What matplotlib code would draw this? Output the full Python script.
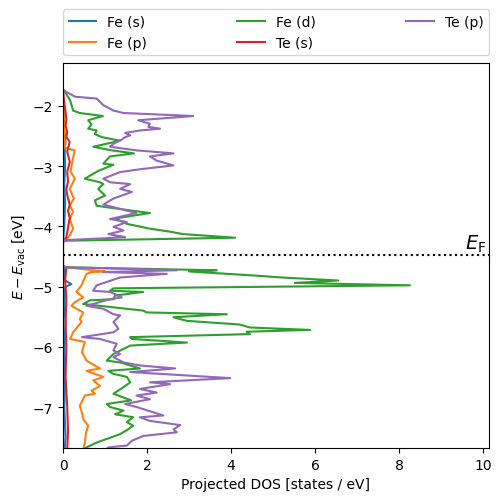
import matplotlib
matplotlib.use("agg")

import matplotlib.pyplot as plt
import numpy as np


LABELS = ["Fe (s)", "Fe (p)", "Fe (d)", "Te (s)", "Te (p)"]
E_FERMI = -4.48

fe_s_e = [-1.75, -2.40, -2.60, -2.75, -3.00, -3.30, -3.60, -4.00, -4.26,
          -4.66, -4.68, -4.90, -4.96, -5.01, -5.30, -5.60, -6.00, -6.50, -7.00, -7.50, -7.72]
fe_s_d = [0.0, 0.03, 0.06, 0.04, 0.05, 0.03, 0.05, 0.03, 0.0,
          0.0, 0.02, 0.05, 0.20, 0.05, 0.03, 0.06, 0.03, 0.05, 0.03, 0.06, 0.04]

fe_p_e = [-1.75, -2.50, -2.70, -2.74, -2.86, -3.09, -3.21, -3.38, -3.54, -3.65, -3.76, -3.88,
          -4.04, -4.15, -4.22, -4.26,
          -4.66, -4.68, -4.75, -4.76, -4.79, -4.85, -4.98, -5.09, -5.18, -5.26, -5.32, -5.43,
          -5.54, -5.59, -5.76, -5.87, -5.92, -6.09, -6.23, -6.36, -6.40, -6.50, -6.56, -6.65,
          -6.73, -6.78, -6.81, -6.98, -7.09, -7.20, -7.31, -7.42, -7.59, -7.72]
fe_p_d = [0.0, 0.03, 0.05, 0.28, 0.24, 0.18, 0.28, 0.16, 0.26, 0.16, 0.24, 0.16,
          0.24, 0.16, 0.08, 0.0,
          0.0, 0.05, 1.00, 0.67, 0.56, 0.52, 0.44, 0.32, 0.48, 0.28, 0.20, 0.48,
          0.40, 0.44, 0.24, 0.17, 0.52, 0.45, 0.56, 0.88, 0.56, 0.96, 0.72, 0.88,
          0.68, 0.76, 0.52, 0.40, 0.45, 0.48, 0.60, 0.55, 0.52, 0.48]

fe_d_e = [-1.75, -1.91, -2.08, -2.12, -2.17, -2.24, -2.31, -2.38, -2.41, -2.47, -2.52, -2.58,
          -2.68, -2.74, -2.79, -2.84, -2.96, -2.98, -3.08, -3.21, -3.27, -3.30, -3.38, -3.49,
          -3.57, -3.66, -3.74, -3.78, -3.87, -3.96, -4.04, -4.09, -4.13, -4.19, -4.24, -4.26,
          -4.66, -4.68, -4.73, -4.75, -4.82, -4.85, -4.90, -4.94, -4.98, -5.03, -5.07, -5.09,
          -5.15, -5.21, -5.23, -5.29, -5.40, -5.43, -5.46, -5.51, -5.57, -5.63, -5.68, -5.72,
          -5.75, -5.79, -5.84, -5.87, -5.93, -5.98, -6.12, -6.23, -6.26, -6.36, -6.40, -6.45,
          -6.50, -6.59, -6.67, -6.78, -6.89, -6.95, -7.00, -7.06, -7.12, -7.17, -7.25, -7.31,
          -7.37, -7.45, -7.59, -7.67, -7.72]
fe_d_d = [0.03, 0.17, 0.24, 0.40, 0.95, 0.60, 0.68, 0.60, 0.80, 0.76, 0.92, 1.36,
          0.72, 1.16, 1.69, 1.12, 0.96, 1.20, 0.84, 0.52, 0.88, 0.96, 0.84, 1.00,
          0.76, 0.80, 1.64, 2.07, 1.24, 1.52, 2.07, 2.55, 2.86, 4.10, 0.05, 0.0,
          0.0, 0.03, 3.66, 3.00, 4.61, 5.21, 6.55, 5.52, 8.26, 1.20, 1.12, 1.91,
          1.24, 1.20, 0.64, 0.48, 1.91, 1.99, 3.90, 2.63, 2.95, 4.20, 4.45, 5.88,
          4.37, 4.45, 1.60, 1.64, 2.95, 1.60, 1.20, 1.04, 1.36, 1.83, 1.08, 1.20,
          1.52, 1.60, 1.44, 1.20, 1.62, 1.04, 1.12, 1.44, 1.24, 1.67, 1.52, 1.67,
          1.55, 1.36, 0.80, 0.56, 0.45]

te_s_e = [-1.75, -1.95, -2.10, -2.22, -2.33, -2.43, -2.52, -2.60, -2.76, -2.93, -3.10, -3.26,
          -3.38, -3.48, -3.64, -3.75, -3.86, -4.02, -4.18, -4.26,
          -4.66, -4.68, -4.90, -5.20, -5.60, -6.00, -6.50, -7.00, -7.40, -7.72]
te_s_d = [0.0, 0.03, 0.06, 0.08, 0.06, 0.10, 0.08, 0.16, 0.10, 0.16, 0.10, 0.12,
          0.08, 0.10, 0.16, 0.12, 0.16, 0.12, 0.08, 0.0,
          0.0, 0.08, 0.05, 0.08, 0.06, 0.08, 0.06, 0.10, 0.12, 0.10]

te_p_e = [-1.75, -1.85, -1.88, -1.99, -2.08, -2.12, -2.17, -2.24, -2.30, -2.35, -2.38, -2.41,
          -2.45, -2.49, -2.52, -2.56, -2.63, -2.68, -2.74, -2.79, -2.84, -2.91, -2.99, -3.05,
          -3.10, -3.21, -3.27, -3.30, -3.38, -3.43, -3.54, -3.64, -3.74, -3.78, -3.88, -3.93,
          -4.01, -4.07, -4.13, -4.18, -4.20, -4.23, -4.26,
          -4.66, -4.68, -4.73, -4.76, -4.79, -4.85, -4.98, -5.07, -5.09, -5.18, -5.21, -5.32,
          -5.37, -5.46, -5.48, -5.59, -5.70, -5.76, -5.84, -5.87, -5.95, -6.06, -6.12, -6.17,
          -6.26, -6.31, -6.36, -6.42, -6.52, -6.59, -6.62, -6.70, -6.76, -6.81, -6.87, -6.95,
          -7.00, -7.14, -7.17, -7.23, -7.30, -7.37, -7.42, -7.48, -7.56, -7.64, -7.67, -7.72]
te_p_d = [0.03, 0.29, 0.80, 0.96, 1.20, 1.44, 3.10, 1.79, 2.07, 2.03, 2.31, 1.83,
          1.48, 1.60, 1.48, 1.40, 1.20, 1.12, 1.75, 2.63, 2.07, 2.23, 2.63, 1.87,
          1.36, 0.96, 1.12, 1.60, 1.36, 1.64, 1.20, 0.96, 1.52, 1.75, 1.12, 1.52,
          1.20, 1.44, 1.08, 1.48, 0.96, 0.05, 0.0,
          0.0, 0.05, 2.71, 0.96, 2.47, 1.36, 0.80, 0.72, 1.12, 1.40, 1.12, 0.56,
          0.96, 1.20, 1.36, 1.20, 1.32, 1.20, 0.45, 0.88, 1.28, 1.20, 1.36, 1.20,
          1.44, 1.83, 2.67, 1.60, 3.98, 2.07, 2.55, 1.83, 2.23, 1.75, 2.07, 1.48,
          1.75, 2.39, 1.83, 2.07, 2.79, 2.63, 2.71, 1.91, 1.64, 1.52, 1.08, 1.00]


def main():
    fig, ax = plt.subplots(figsize=(5.02, 5.02), dpi=100)
    fig.subplots_adjust(left=0.1255, right=0.974, bottom=0.1056, top=0.8725)

    series = [(fe_s_e, fe_s_d), (fe_p_e, fe_p_d), (fe_d_e, fe_d_d),
              (te_s_e, te_s_d), (te_p_e, te_p_d)]
    for (energy, dos), label in zip(series, LABELS):
        ax.plot(np.array(dos), np.array(energy), label=label)

    ax.axhline(E_FERMI, color="k", linestyle=":")
    ax.text(0.995, E_FERMI + 0.02, r"$E_\mathrm{F}$", transform=ax.get_yaxis_transform(),
            ha="right", va="bottom", fontsize=14)

    ax.set_xlim(0, 10.14)
    ax.set_ylim(-7.68, -1.29)
    ax.set_xlabel("Projected DOS [states / eV]")
    ax.set_ylabel(r"$E - E_\mathrm{vac}$ [eV]")

    ax.legend(bbox_to_anchor=(0, 1.02, 1, 0.2), loc="lower left", mode="expand",
              borderaxespad=0, ncol=3)

    fig.savefig("out.png")


if __name__ == "__main__":
    main()
